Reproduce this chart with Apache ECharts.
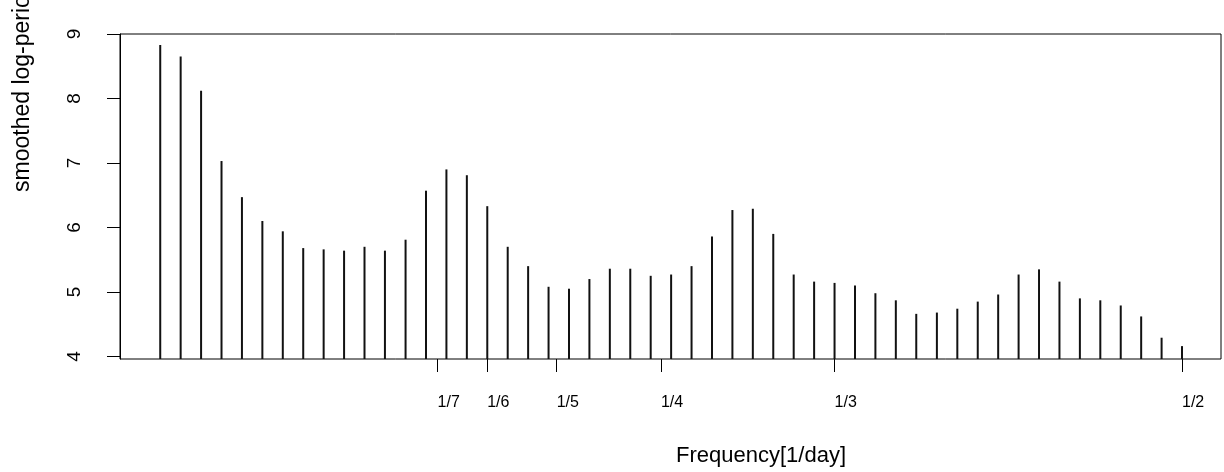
<!DOCTYPE html>
<html>
<head>
<meta charset="utf-8">
<script src="https://cdn.jsdelivr.net/npm/echarts@6/dist/echarts.min.js"></script>
<style>
  html, body { margin: 0; padding: 0; background: #fff; }
  #graph { width: 1224px; height: 472px; }
</style>
</head>
<body>
<div id="graph"></div>
<script>
// Fourier frequencies (cycles per day) of the periodogram lines
const freqs = [
  0.0098, 0.0196, 0.0294, 0.0392, 0.0490, 0.0588, 0.0686, 0.0784, 0.0882, 0.0980,
  0.1078, 0.1176, 0.1275, 0.1373, 0.1471, 0.1569, 0.1667, 0.1765, 0.1863, 0.1961,
  0.2059, 0.2157, 0.2255, 0.2353, 0.2451, 0.2549, 0.2647, 0.2745, 0.2843, 0.2941,
  0.3039, 0.3137, 0.3235, 0.3333, 0.3431, 0.3529, 0.3627, 0.3725, 0.3824, 0.3922,
  0.4020, 0.4118, 0.4216, 0.4314, 0.4412, 0.4510, 0.4608, 0.4706, 0.4804, 0.4902,
  0.5000
];

// smoothed log-periodogram values
const logPgram = [
  8.83, 8.65, 8.12, 7.03, 6.47, 6.10, 5.94, 5.68, 5.66, 5.64,
  5.70, 5.64, 5.81, 6.57, 6.90, 6.81, 6.33, 5.70, 5.40, 5.08,
  5.05, 5.20, 5.36, 5.36, 5.25, 5.27, 5.40, 5.86, 6.27, 6.29,
  5.90, 5.27, 5.16, 5.14, 5.10, 4.98, 4.87, 4.66, 4.68, 4.74,
  4.85, 4.96, 5.27, 5.35, 5.16, 4.90, 4.87, 4.79, 4.62, 4.29,
  4.16
];

const xTickValues = [1 / 7, 1 / 6, 1 / 5, 1 / 4, 1 / 3, 1 / 2];
const xTickLabels = ['1/7', '1/6', '1/5', '1/4', '1/3', '1/2'];
const yTickValues = [4, 5, 6, 7, 8, 9];

const FONT = 'Liberation Sans, Arial, sans-serif';

const chart = echarts.init(document.getElementById('graph'));
chart.setOption({
  animation: false,
  backgroundColor: '#fff',
  grid: {
    left: 120,
    right: 3,
    top: 34,
    bottom: 113,
    show: true,
    borderColor: '#000',
    borderWidth: 1
  },
  xAxis: {
    type: 'value',
    min: -0.0095,
    max: 0.5187,
    splitLine: { show: false },
    axisLine: { show: false, onZero: false },
    axisTick: {
      show: true,
      length: 13,
      customValues: xTickValues,
      lineStyle: { color: '#000', width: 1 }
    },
    axisLabel: {
      customValues: xTickValues,
      margin: 36,
      align: 'left',
      verticalAlign: 'top',
      fontSize: 16,
      fontFamily: FONT,
      color: '#000',
      formatter: (v) => {
        const i = xTickValues.findIndex((t) => Math.abs(t - v) < 1e-9);
        return i >= 0 ? xTickLabels[i] : '';
      }
    }
  },
  yAxis: {
    type: 'value',
    min: 3.96,
    max: 9,
    splitLine: { show: false },
    axisLine: { show: true, onZero: false, lineStyle: { color: '#000', width: 1 } },
    axisTick: {
      show: true,
      length: 13,
      customValues: yTickValues,
      lineStyle: { color: '#000', width: 1 }
    },
    axisLabel: {
      customValues: yTickValues,
      rotate: 90,
      margin: 45,
      align: 'center',
      verticalAlign: 'middle',
      fontSize: 19,
      fontFamily: FONT,
      color: '#000'
    }
  },
  graphic: [
    {
      type: 'text',
      x: 23,
      y: 192,
      rotation: Math.PI / 2,
      style: {
        text: 'smoothed log-periodogram',
        fontSize: 23,
        fontFamily: FONT,
        fill: '#000',
        textAlign: 'left',
        textVerticalAlign: 'middle'
      }
    },
    {
      type: 'text',
      x: 761,
      y: 456,
      style: {
        text: 'Frequency[1/day]',
        fontSize: 22,
        fontFamily: FONT,
        fill: '#000',
        textAlign: 'center',
        textVerticalAlign: 'middle'
      }
    }
  ],
  series: [
    {
      type: 'bar',
      data: freqs.map((f, i) => [f, logPgram[i]]),
      barWidth: 2,
      clip: true,
      itemStyle: { color: '#111' }
    }
  ]
});
</script>
</body>
</html>
